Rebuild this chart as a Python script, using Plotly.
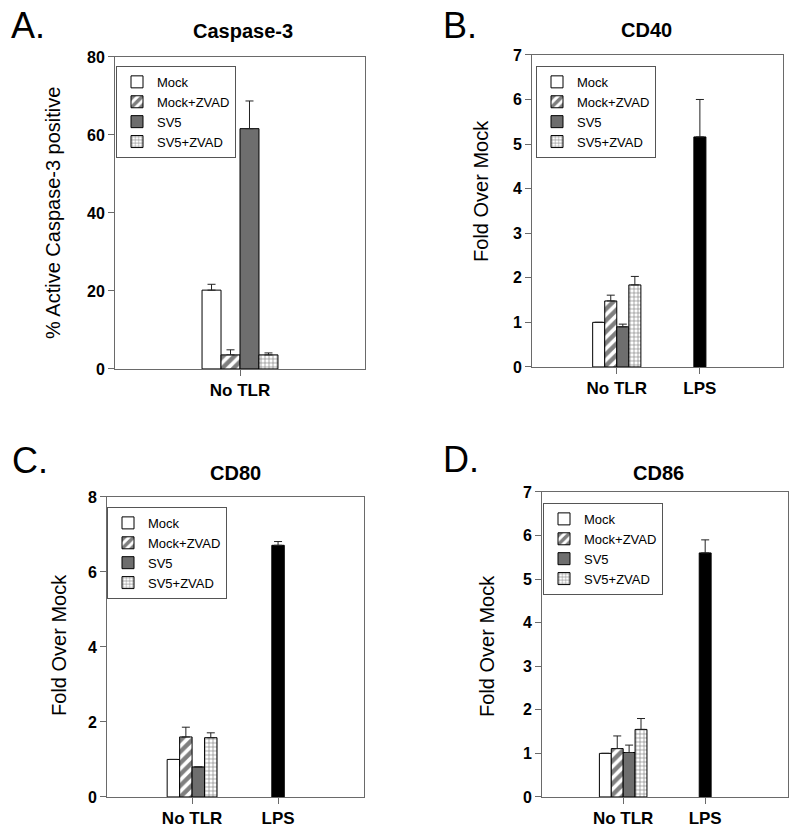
import plotly.graph_objects as go

W, H = 800, 840

series = ["Mock", "Mock+ZVAD", "SV5", "SV5+ZVAD"]
categories = ["No TLR", "LPS"]

caspase_vals = [20.2, 3.6, 61.6, 3.6]
caspase_err = [1.5, 1.3, 7.1, 0.5]

cd40_vals = [1.0, 1.48, 0.90, 1.84]
cd40_err = [0.0, 0.13, 0.06, 0.19]
cd40_lps = [5.16]
cd40_lps_err = [0.84]

cd80_vals = [1.0, 1.60, 0.80, 1.58]
cd80_err = [0.0, 0.26, 0.0, 0.13]
cd80_lps = [6.71]
cd80_lps_err = [0.10]

cd86_vals = [1.0, 1.11, 1.02, 1.55]
cd86_err = [0.0, 0.29, 0.17, 0.25]
cd86_lps = [5.60]
cd86_lps_err = [0.30]

caspase_ticks = [0, 20, 40, 60, 80]
cd40_ticks = [0, 1, 2, 3, 4, 5, 6, 7]
cd80_ticks = [0, 2, 4, 6, 8]
cd86_ticks = [0, 1, 2, 3, 4, 5, 6, 7]

FONT = "Liberation Sans, Arial, sans-serif"
BAR_W = 0.145

styles = [
    dict(color="white", pattern=None),
    dict(color="white", pattern=dict(shape="/", fgcolor="black", bgcolor="white", size=8, solidity=0.55)),
    dict(color="#6e6e6e", pattern=None),
    dict(color="white", pattern=dict(shape="+", fgcolor="black", bgcolor="white", size=4, solidity=0.3)),
]

fig = go.Figure()

panels = [
    ("x", "y", "legend", caspase_vals, caspase_err, None, None),
    ("x2", "y2", "legend2", cd40_vals, cd40_err, cd40_lps, cd40_lps_err),
    ("x3", "y3", "legend3", cd80_vals, cd80_err, cd80_lps, cd80_lps_err),
    ("x4", "y4", "legend4", cd86_vals, cd86_err, cd86_lps, cd86_lps_err),
]

for xa, ya, lg, vals, errs, lps, lps_err in panels:
    for i, name in enumerate(series):
        st = styles[i]
        marker = dict(color=st["color"], line=dict(color="black", width=1))
        if st["pattern"] is not None:
            marker["pattern"] = st["pattern"]
        fig.add_trace(go.Bar(
            x=[0], y=[vals[i]], name=name, width=BAR_W, offset=(i - 2) * BAR_W,
            marker=marker, xaxis=xa, yaxis=ya, legend=lg,
            error_y=dict(type="data", symmetric=False, array=[errs[i]], arrayminus=[0],
                         color="#222", thickness=1, width=4),
            showlegend=True,
        ))
    if lps is not None:
        fig.add_trace(go.Bar(
            x=[1], y=lps, name="LPS", width=BAR_W, offset=-BAR_W / 2,
            marker=dict(color="black", line=dict(color="black", width=1)),
            xaxis=xa, yaxis=ya, showlegend=False,
            error_y=dict(type="data", symmetric=False, array=lps_err, arrayminus=[0],
                         color="#222", thickness=1, width=4),
        ))

# vertical compensation for the capture
Y0, SY = 7.1, 0.9797

def py(y):
    return (y - Y0) / SY

def px_dom_x(a, b):
    return [a / W, b / W]

def px_dom_y(top, bottom):
    return [1 - py(bottom) / H, 1 - py(top) / H]

LINE = "#6a6a6a"
tickfont = dict(family=FONT, size=16, color="black")
xtickfont = dict(family=FONT, size=17, color="black")

axis_common = dict(showline=True, linecolor=LINE, linewidth=1, mirror=True,
                   showgrid=False, zeroline=False, ticks="outside", ticklen=6,
                   tickcolor=LINE, tickwidth=1)

def bold(labels):
    return ["<b>%s</b>" % l for l in labels]

layout = dict(
    width=W, height=H, margin=dict(l=0, r=0, t=0, b=0),
    paper_bgcolor="white", plot_bgcolor="white", barmode="overlay",
    font=dict(family=FONT, color="black"),
)

layout["xaxis"] = dict(domain=px_dom_x(115, 365), range=[-0.955, 0.955], anchor="y",
                       tickvals=[0], ticktext=bold(categories[:1]), tickfont=xtickfont,
                       ticklabelstandoff=0, **axis_common)
layout["yaxis"] = dict(domain=px_dom_y(56, 368), range=[0, 80], anchor="x",
                       tickvals=caspase_ticks, ticktext=bold(caspase_ticks), tickfont=tickfont, **axis_common)
layout["xaxis2"] = dict(domain=px_dom_x(532, 783), range=[-1.02, 2.0], anchor="y2",
                        tickvals=[0, 1], ticktext=bold(categories), tickfont=xtickfont,
                        ticklabelstandoff=0, **axis_common)
layout["yaxis2"] = dict(domain=px_dom_y(54, 366), range=[0, 7], anchor="x2",
                        tickvals=cd40_ticks, ticktext=bold(cd40_ticks), tickfont=tickfont, **axis_common)
layout["xaxis3"] = dict(domain=px_dom_x(107, 364), range=[-0.99, 2.0], anchor="y3",
                        tickvals=[0, 1], ticktext=bold(categories), tickfont=xtickfont,
                        ticklabelstandoff=0, **axis_common)
layout["yaxis3"] = dict(domain=px_dom_y(496, 796), range=[0, 8], anchor="x3",
                        tickvals=cd80_ticks, ticktext=bold(cd80_ticks), tickfont=tickfont, **axis_common)
layout["xaxis4"] = dict(domain=px_dom_x(542, 788), range=[-0.99, 2.01], anchor="y4",
                        tickvals=[0, 1], ticktext=bold(categories), tickfont=xtickfont,
                        ticklabelstandoff=0, **axis_common)
layout["yaxis4"] = dict(domain=px_dom_y(491, 796), range=[0, 7], anchor="x4",
                        tickvals=cd86_ticks, ticktext=bold(cd86_ticks), tickfont=tickfont, **axis_common)

legfont = dict(family=FONT, size=13, color="black")
def leg(xp, yp):
    return dict(x=xp / W, y=1 - py(yp) / H, xanchor="left", yanchor="top",
                bordercolor="#555", borderwidth=1, bgcolor="white",
                font=legfont, tracegroupgap=0, traceorder="normal")

layout["legend"] = leg(116, 65)
layout["legend2"] = leg(536, 65)
layout["legend3"] = leg(107, 506)
layout["legend4"] = leg(543, 502)

fig.update_layout(**layout)

def ann(text, xp, yp, size, bold=False, angle=0):
    fig.add_annotation(text=("<b>%s</b>" % text) if bold else text,
                       x=xp / W, y=1 - py(yp) / H, xref="paper", yref="paper",
                       xanchor="center", yanchor="middle", showarrow=False, textangle=angle,
                       font=dict(family=FONT, size=size, color="black"))

ann("A.", 28, 25, 36)
ann("B.", 460, 25, 36)
ann("C.", 30, 460, 36)
ann("D.", 461, 459, 36)

ann("Caspase-3", 243, 30, 20, bold=True)
ann("CD40", 646, 29, 20, bold=True)
ann("CD80", 235, 472, 20, bold=True)
ann("CD86", 658, 472, 20, bold=True)

ann("% Active Caspase-3 positive", 53, 212, 20, angle=-90)
ann("Fold Over Mock", 481, 190, 20, angle=-90)
ann("Fold Over Mock", 59, 644, 20, angle=-90)
ann("Fold Over Mock", 487, 645, 20, angle=-90)

fig.write_html(
    "out.html",
    config={"displayModeBar": False},
    post_script=(
        "document.body.style.margin='0';document.body.style.overflow='hidden';"
        "var d=document.getElementById('{plot_id}');"
        "d.style.position='fixed';d.style.top='0px';d.style.left='0px';"
    ),
)
